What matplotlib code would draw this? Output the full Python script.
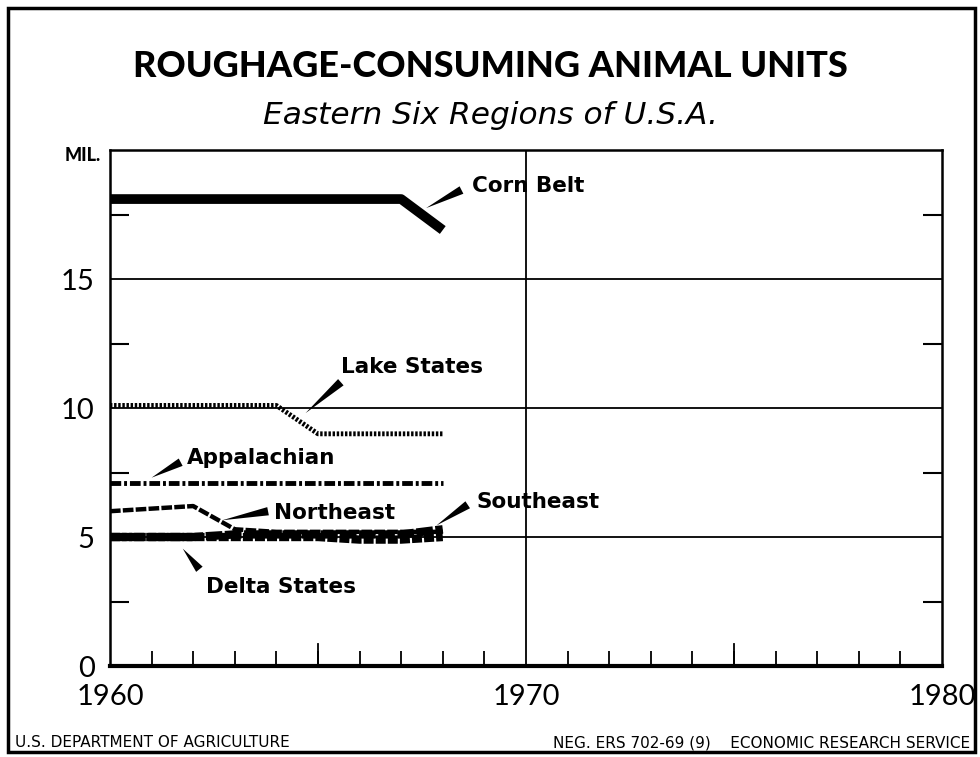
"""Roughage-consuming animal units, eastern six regions (USDA ERS chart)."""
import matplotlib

matplotlib.use("Agg")
import matplotlib.pyplot as plt
from matplotlib.patches import Rectangle

years = [1960, 1961, 1962, 1963, 1964, 1965, 1966, 1967, 1968]
corn_belt = [18.1, 18.1, 18.1, 18.1, 18.1, 18.1, 18.1, 18.1, 16.9]
lake_states = [10.1, 10.1, 10.1, 10.1, 10.1, 9.0, 9.0, 9.0, 9.0]
appalachian = [7.1, 7.1, 7.1, 7.1, 7.1, 7.1, 7.1, 7.1, 7.1]
northeast = [6.0, 6.1, 6.2, 5.3, 5.2, 5.2, 5.2, 5.2, 5.2]
southeast = [5.0, 5.0, 5.0, 5.1, 5.1, 5.1, 5.1, 5.1, 5.3]
delta_states = [5.0, 5.0, 5.0, 5.0, 5.0, 5.0, 4.9, 4.9, 5.0]

y_ticks = [0, 5, 10, 15]
x_ticks = [1960, 1970, 1980]

# label text position, wedge tail, wedge head (data coords)
labels = {
    "Corn Belt": ((1968.7, 18.6), (1968.45, 18.45), (1967.6, 17.75)),
    "Lake States": ((1965.55, 11.6), (1965.55, 11.0), (1964.7, 9.8)),
    "Appalachian": ((1961.85, 8.05), (1961.7, 7.9), (1961.0, 7.3)),
    "Northeast": ((1963.95, 5.95), (1963.8, 6.0), (1962.7, 5.65)),
    "Southeast": ((1968.8, 6.35), (1968.6, 6.25), (1967.85, 5.45)),
    "Delta States": ((1962.3, 3.05), (1962.15, 3.75), (1961.75, 4.55)),
}

NUM_FONT = ["Lato", "DejaVu Sans"]

fig = plt.figure(figsize=(9.8, 7.57), dpi=100)
ax = fig.add_axes([0.1122, 0.1202, 0.849, 0.6816])

for y in (5, 10, 15):
    ax.axhline(y, color="black", lw=1.3, zorder=1)
ax.axvline(1970, color="black", lw=1.3, zorder=1)

ax.plot(years, corn_belt, color="black", lw=7, solid_capstyle="butt", zorder=3)
ax.plot(years, lake_states, color="black", lw=3.5, ls=(0, (0.5, 0.35)), zorder=3)
ax.plot(years, appalachian, color="black", lw=3.5, ls=(0, (2.2, 0.6, 0.6, 0.6)), zorder=3)
ax.plot(years, northeast, color="black", lw=3.2, ls=(0, (2.4, 0.5)), zorder=3)
ax.plot(years, southeast, color="black", lw=6, ls=(0, (2.0, 0.3)), zorder=3)
ax.plot(years, delta_states, color="black", lw=6, ls=(0, (1.2, 0.25)), zorder=3)

for name, (txt, tail, head) in labels.items():
    ax.text(txt[0], txt[1], name, fontsize=15.5, fontweight="bold",
            ha="left", va="center", zorder=4)
    ax.annotate("", xy=head, xytext=tail,
                arrowprops=dict(arrowstyle="wedge,tail_width=0.6,shrink_factor=0.5",
                                color="black", lw=0, shrinkA=0, shrinkB=0),
                zorder=4)

ax.set_xlim(1960, 1980)
ax.set_ylim(0, 20)
ax.set_xticks(x_ticks)
ax.set_xticklabels([str(x) for x in x_ticks], fontsize=21, family=NUM_FONT)
ax.set_xticks(range(1961, 1980), minor=True)
ax.set_yticks(y_ticks)
ax.set_yticklabels([str(y) for y in y_ticks], fontsize=21, family=NUM_FONT)
ax.set_yticks([2.5, 7.5, 12.5, 17.5], minor=True)

ax.tick_params(axis="x", which="major", length=0, pad=13)
ax.tick_params(axis="x", which="minor", direction="in", length=11, width=1.3)
ax.tick_params(axis="y", which="major", length=0, pad=11)
ax.tick_params(axis="y", which="minor", direction="in", length=14, width=1.5,
               right=True)

# taller ticks at the half decades
for x in (1965, 1975):
    ax.plot([x, x], [0, 0.85], color="black", lw=1.3, zorder=2)

for side in ("left", "right", "top"):
    ax.spines[side].set_linewidth(1.8)
ax.spines["bottom"].set_linewidth(3)

fig.text(0.5, 0.912, "ROUGHAGE-CONSUMING ANIMAL UNITS", ha="center", va="center",
         fontsize=26, fontweight="black", family=NUM_FONT)
fig.text(0.5, 0.848, "Eastern Six Regions of U.S.A.", ha="center", va="center",
         fontsize=22.5, style="italic")
fig.text(0.066, 0.795, "MIL.", ha="left", va="center", fontsize=13,
         fontweight="black", family=NUM_FONT)
fig.text(0.015, 0.019, "U.S. DEPARTMENT OF AGRICULTURE", ha="left", va="center",
         fontsize=11)
fig.text(0.99, 0.019, "NEG. ERS 702-69 (9)    ECONOMIC RESEARCH SERVICE",
         ha="right", va="center", fontsize=11)

fig.patches.append(Rectangle((0.008, 0.006), 0.987, 0.983, transform=fig.transFigure,
                             fill=False, edgecolor="black", lw=2.5))

fig.savefig("out.png", dpi=100)
